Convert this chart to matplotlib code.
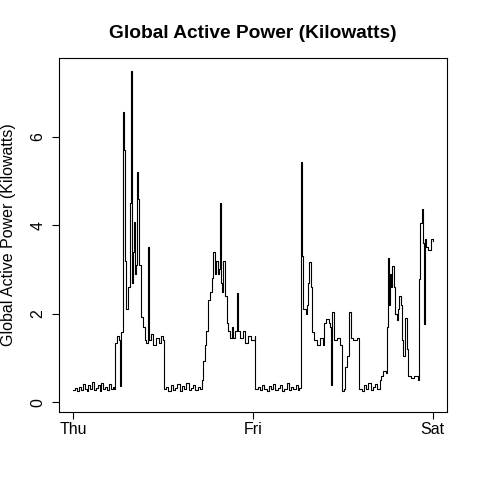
import matplotlib
matplotlib.use("Agg")
import matplotlib.pyplot as plt

plt.rcParams["font.family"] = ["Liberation Sans", "DejaVu Sans"]

# hours since Thursday 00:00 and global active power (kW)
hours = [
    0.0, 0.25, 0.5, 0.75, 1.0, 1.25, 1.5, 1.75, 2.0, 2.25, 2.5, 2.75, 3.0,
    3.25, 3.5, 3.75, 4.0, 4.25, 4.5, 4.75, 5.0, 5.25, 5.45,
    5.54, 5.8, 6.05, 6.2, 6.3, 6.42, 6.64, 6.7, 6.86, 7.08, 7.3, 7.52, 7.6,
    7.74, 7.8, 7.96, 8.09, 8.2, 8.31, 8.48, 8.6, 8.75, 8.97, 9.28, 9.5,
    9.7, 9.93, 10.15, 10.4, 10.7, 11.03, 11.4, 11.7, 12.0,
    12.13, 12.4, 12.7, 13.0, 13.3, 13.6, 13.9, 14.2, 14.5, 14.8, 15.1,
    15.4, 15.7, 16.0, 16.3, 16.6, 16.9,
    17.18, 17.32, 17.54, 17.71, 17.98, 18.29, 18.5, 18.64, 18.86, 19.03,
    19.3, 19.47, 19.56, 19.69, 19.91, 20.04, 20.26, 20.48, 20.7, 20.92,
    21.14, 21.36, 21.58, 21.8, 21.93, 22.24, 22.68, 22.9, 23.34, 23.78,
    24.22,
    24.3, 24.6, 24.9, 25.2, 25.5, 25.8, 26.1, 26.4, 26.7, 27.0, 27.3,
    27.6, 27.9, 28.2, 28.5, 28.8, 29.1, 29.4, 29.7, 30.0, 30.2,
    30.37, 30.46, 30.6, 30.73, 31.03, 31.25, 31.34, 31.52, 31.69, 31.91,
    32.13, 32.57, 33.01, 33.36, 33.54, 33.8, 34.11, 34.33, 34.46, 34.59,
    34.77, 35.21, 35.56, 35.87, 36.09, 36.31, 36.62, 36.88, 37.06, 37.41,
    37.85, 38.15,
    38.2, 38.5, 38.8, 39.1, 39.4, 39.7, 40.0, 40.3, 40.6, 40.9,
    41.14, 41.36, 41.8, 41.89, 41.98, 42.11, 42.24, 42.46, 42.6, 42.77,
    43.03, 43.21, 43.34, 43.56, 43.74, 43.91, 44.09, 44.31, 44.53, 44.66,
    45.1, 45.54, 45.98, 46.11, 46.29, 46.55, 46.73, 46.86, 46.99, 47.17,
    47.43, 47.74, 47.98,
]
power = [
    0.28, 0.32, 0.25, 0.35, 0.27, 0.42, 0.30, 0.26, 0.38, 0.30, 0.45, 0.28,
    0.33, 0.40, 0.25, 0.44, 0.30, 0.35, 0.27, 0.42, 0.30, 0.35, 0.30,
    1.35, 1.50, 1.40, 0.36, 1.45, 1.58, 6.55, 5.70, 3.20, 2.10, 2.60, 3.07,
    4.50, 7.48, 2.70, 3.40, 4.08, 2.90, 3.10, 5.20, 4.60, 3.10, 1.92, 1.70,
    1.40, 1.35, 3.50, 1.40, 1.55, 1.30, 1.45, 1.35, 1.50, 1.40,
    0.30, 0.35, 0.26, 0.40, 0.28, 0.33, 0.42, 0.25, 0.36, 0.30, 0.44,
    0.27, 0.33, 0.40, 0.28, 0.35, 0.30,
    0.50, 0.93, 1.30, 1.60, 2.30, 2.50, 2.80, 3.40, 2.90, 3.20, 2.90, 3.00,
    4.50, 2.70, 2.50, 3.20, 2.40, 1.80, 1.60, 1.45, 1.70, 1.45, 1.60, 2.48,
    1.60, 1.45, 1.60, 1.35, 1.50, 1.40, 1.50,
    0.30, 0.35, 0.27, 0.40, 0.30, 0.25, 0.36, 0.30, 0.42, 0.28, 0.33,
    0.38, 0.26, 0.30, 0.44, 0.28, 0.35, 0.30, 0.40, 0.27, 0.33,
    0.45, 5.42, 3.30, 2.10, 2.00, 2.20, 2.70, 3.16, 2.60, 1.58, 1.40, 1.30,
    1.45, 1.30, 1.80, 1.88, 1.80, 1.70, 0.40, 2.05, 1.40, 1.45, 1.30, 0.25,
    0.30, 0.80, 1.05, 2.05, 1.45, 1.40, 1.45, 1.40,
    0.30, 0.26, 0.38, 0.30, 0.44, 0.27, 0.35, 0.42, 0.30, 0.50,
    0.60, 0.70, 0.65, 1.70, 3.27, 2.20, 2.90, 2.60, 3.07, 2.60, 2.00, 1.85,
    2.10, 2.40, 2.20, 1.40, 1.05, 1.90, 1.20, 0.60, 0.55, 0.60, 0.50, 2.78,
    4.06, 4.36, 3.60, 1.76, 3.68, 3.50, 3.45, 3.68, 3.65,
]

tick_hours = [0, 24, 48]
tick_labels = ["Thu", "Fri", "Sat"]

fig = plt.figure(figsize=(4.8, 4.8), dpi=100)
ax = fig.add_axes([0.123, 0.1417, 0.808, 0.7375])
ax.plot(hours, power, color="black", linewidth=0.8, drawstyle="steps-post")

ax.set_xlim(-1.92, 49.9)
ax.set_ylim(-0.22, 7.78)
ax.set_xticks(tick_hours)
ax.set_xticklabels(tick_labels)
ax.set_yticks([0, 2, 4, 6])
ax.set_yticklabels(["0", "2", "4", "6"], rotation=90, va="center")
ax.tick_params(direction="out", length=5, width=0.8, labelsize=11.5)
ax.tick_params(axis="x", pad=2)
ax.tick_params(axis="y", pad=5)
for s in ax.spines.values():
    s.set_linewidth(0.8)

# axis label and title placed like the R base graphics margins
fig.text(9 / 480, 0.1417 + 0.7375 / 2, "Global Active Power (Kilowatts)",
         fontsize=11.5, rotation=90, ha="center", va="center")
fig.text(0.5 * (0.123 + 0.931), 1 - 33 / 480,
         "Global Active Power (Kilowatts)", fontsize=13.8,
         fontweight="bold", ha="center", va="center")

fig.savefig("out.png", dpi=100)
